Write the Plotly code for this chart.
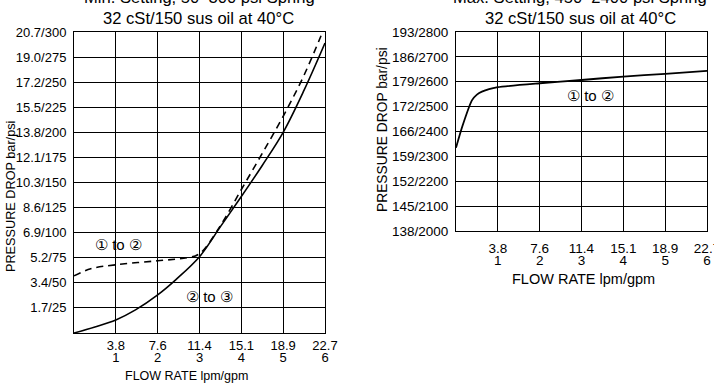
import plotly.graph_objects as go

# ---- data ----
flow_gpm = [1, 2, 3, 4, 5, 6]
flow_lpm = ["3.8", "7.6", "11.4", "15.1", "18.9", "22.7"]

left_psi = [25, 50, 75, 100, 125, 150, 175, 200, 225, 250, 275, 300]
left_bar = ["1.7", "3.4", "5.2", "6.9", "8.6", "10.3", "12.1", "13.8", "15.5", "17.2", "19.0", "20.7"]

right_psi = [2000, 2100, 2200, 2300, 2400, 2500, 2600, 2700, 2800]
right_bar = ["138", "145", "152", "159", "166", "172", "179", "186", "193"]

# Min setting: curve 2 to 3 (solid)
solid_x = [0, 0.5, 1.0, 1.47, 2.0, 2.43, 3.0, 3.5, 4.0, 4.5, 5.0, 5.5, 6.0]
solid_y = [0, 6, 13, 23, 38, 53, 76, 106, 136, 167, 200, 242, 289]
# Min setting: curve 1 to 2 (dashed)
dash_x = [0, 0.4, 1.0, 2.0, 2.7, 3.0, 3.5, 4.0, 4.5, 5.0, 5.5, 6.0]
dash_y = [57, 64, 68, 72, 75, 79, 107, 143, 179, 216, 257, 306]

# Max setting: curve 1 to 2
max_x = [0, 0.15, 0.38, 0.5, 0.62, 1.0, 2.0, 3.0, 4.0, 5.0, 6.0]
max_y = [2335, 2420, 2525, 2548, 2560, 2578, 2594, 2607, 2621, 2632, 2644]

W, H = 714, 385
def px(x):
    return x / W
def py(y):
    return 1 - y / H

FONT = "Liberation Sans, Arial, sans-serif"

fig = go.Figure()
fig.add_trace(go.Scatter(x=solid_x, y=solid_y, mode="lines",
                         line=dict(color="black", width=1.6, shape="spline", smoothing=1.0),
                         xaxis="x", yaxis="y", showlegend=False))
fig.add_trace(go.Scatter(x=dash_x, y=dash_y, mode="lines",
                         line=dict(color="black", width=1.6, dash="7px,5px", shape="spline", smoothing=1.0),
                         xaxis="x", yaxis="y", showlegend=False))
fig.add_trace(go.Scatter(x=max_x, y=max_y, mode="lines",
                         line=dict(color="black", width=1.8, shape="spline", smoothing=0.5),
                         xaxis="x2", yaxis="y2", showlegend=False))

CLEAR = "rgba(0,0,0,0)"

def xax(domain, size, anchor, labels, ticklen, grid):
    return dict(domain=domain, range=[0, 6], tickmode="array", tickvals=flow_gpm,
                ticktext=labels, automargin=False, ticklabeloverflow="allow",
                showgrid=grid, gridcolor="black", gridwidth=1, showline=grid, linecolor="black",
                linewidth=1, mirror=grid, ticks="outside", ticklen=ticklen, tickcolor=CLEAR,
                zeroline=False, anchor=anchor, side="bottom",
                tickfont=dict(family=FONT, size=size, color="black"))

def yax(domain, rng, vals, text, size, anchor):
    return dict(domain=domain, range=rng, tickmode="array", tickvals=vals, ticktext=text,
                automargin=False,
                showgrid=True, gridcolor="black", gridwidth=1, showline=True, linecolor="black",
                linewidth=1, mirror=True, ticks="outside", ticklen=4, tickcolor=CLEAR,
                zeroline=False, anchor=anchor,
                tickfont=dict(family=FONT, size=size, color="black"))

L_dom_x = [px(74), px(325)]
L_dom_y = [py(333), py(32)]
R_dom_x = [px(456), px(707)]
R_dom_y = [py(231), py(32)]

gpm_text = [str(g) for g in flow_gpm]

xa1 = xax(L_dom_x, 13, "y", flow_lpm, 0.1, True)
xa2 = xax(R_dom_x, 13.5, "y2", flow_lpm, 5, True)
xa3 = xax(L_dom_x, 13, "y", gpm_text, 12, False)
xa3.update(overlaying="x", matches="x")
xa4 = xax(R_dom_x, 13.5, "y2", gpm_text, 17, False)
xa4.update(overlaying="x2", matches="x2")

fig.update_layout(
    template="none",
    width=W, height=H, margin=dict(l=0, r=0, t=0, b=0, autoexpand=False),
    paper_bgcolor="white", plot_bgcolor="white",
    font=dict(family=FONT, color="black"),
    hovermode=False,
    xaxis=xa1,
    yaxis=yax(L_dom_y, [0, 300], left_psi, [f"{b}/{p}" for b, p in zip(left_bar, left_psi)], 13, "x"),
    xaxis2=xa2,
    yaxis2=yax(R_dom_y, [2000, 2800], right_psi, [f"{b}/{p}" for b, p in zip(right_bar, right_psi)], 13.5, "x2"),
    xaxis3=xa3,
    xaxis4=xa4,
)
# invisible carriers so the overlay axes are drawn
fig.add_trace(go.Scatter(x=flow_gpm, y=[left_psi[0]] * len(flow_gpm), mode="none", xaxis="x3", yaxis="y",
                         showlegend=False, hoverinfo="skip"))
fig.add_trace(go.Scatter(x=flow_gpm, y=[right_psi[0]] * len(flow_gpm), mode="none", xaxis="x4", yaxis="y2",
                         showlegend=False, hoverinfo="skip"))

ann = []
def A(text, x, y, size, angle=0, xanchor="center"):
    ann.append(dict(text=text, x=px(x), y=py(y), xref="paper", yref="paper", showarrow=False,
                    xanchor=xanchor, yanchor="middle", textangle=angle,
                    font=dict(family=FONT, size=size, color="black")))

# titles
A("Min. Setting, 50–300 psi Spring", 199, -3, 16.6)
A("32 cSt/150 sus oil at 40°C", 198, 18, 16.6)
A("Max. Setting, 450–2400 psi Spring", 580, -3, 16.6)
A("32 cSt/150 sus oil at 40°C", 580, 18, 16.6)
# axis titles
A("FLOW RATE lpm/gpm", 186, 376, 12.5)
A("FLOW RATE lpm/gpm", 583, 279, 14.5)
A("PRESSURE DROP bar/psi", 11, 197, 12.7, angle=-90)
A("PRESSURE DROP bar/psi", 382, 130, 13.8, angle=-90)
# curve labels
A("① to ②", 118, 244, 15)
A("② to ③", 209, 296, 15)
A("① to ②", 590, 96, 15)

fig.update_layout(annotations=ann)
fig.write_html("out.html", config={"displayModeBar": False, "staticPlot": True},
               post_script="document.body.style.margin='0px';document.body.style.overflow='hidden';")
